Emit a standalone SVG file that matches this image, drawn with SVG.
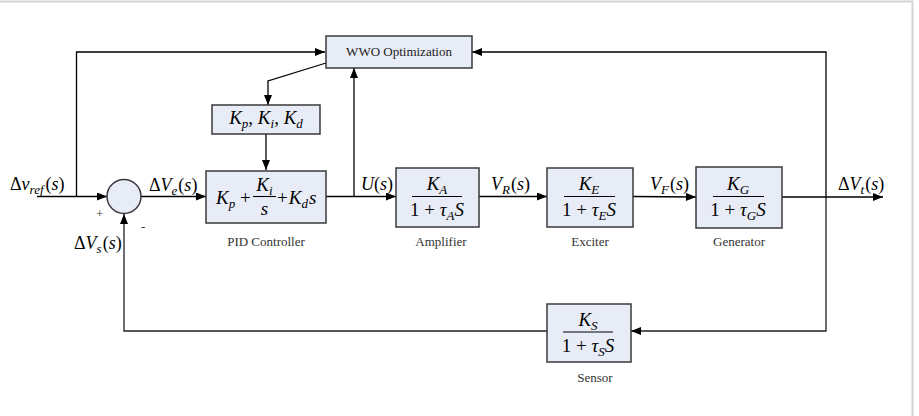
<svg xmlns="http://www.w3.org/2000/svg" width="919" height="416" viewBox="0 0 919 416">
<defs>
<marker id="arr" viewBox="0 0 10 8" refX="10" refY="4" markerWidth="11" markerHeight="8" markerUnits="userSpaceOnUse" orient="auto">
<path d="M0,0 L10,4 L0,8 Z" fill="#000"/>
</marker>
<style>
.box{fill:#e8ecf6;stroke:#3a3a3a;stroke-width:1.5}
.ln{fill:none;stroke:#000;stroke-width:1.3}
.ln2{fill:none;stroke:#222;stroke-width:1.3}
.frac{stroke:#000;stroke-width:1.1}
.m{font-family:"Liberation Serif","Times New Roman",serif;font-size:19px;fill:#000}
.i{font-style:italic}
.sub{font-size:13px;font-style:italic}
.lab{font-family:"Liberation Serif","Times New Roman",serif;font-size:13px;fill:#333}
.sig{font-family:"Liberation Serif","Times New Roman",serif;font-size:18px;fill:#000}
</style>
</defs>
<rect width="919" height="416" fill="#fff"/>
<path d="M0,1.5 H912.5 V416" fill="none" stroke="#d4d4d4" stroke-width="2"/>

<g id="connectors">
<path class="ln" d="M37,196.5 H107" marker-end="url(#arr)"/>
<path class="ln" d="M76.5,196.5 V52 H325" marker-end="url(#arr)"/>
<path class="ln" d="M141,196.5 H206" marker-end="url(#arr)"/>
<path class="ln" d="M326,196.5 H396" marker-end="url(#arr)"/>
<path class="ln" d="M354,196.5 V68" marker-end="url(#arr)"/>
<path class="ln" d="M326,63 L268,81 V105" marker-end="url(#arr)"/>
<path class="ln" d="M266,134 V170" marker-end="url(#arr)"/>
<path class="ln" d="M479,196.5 H547" marker-end="url(#arr)"/>
<path class="ln" d="M633,196.5 L696,197" marker-end="url(#arr)"/>
<path class="ln" d="M782,197 H883" marker-end="url(#arr)"/>
<path class="ln" d="M826,197 V52 H472" marker-end="url(#arr)"/>
<path class="ln2" d="M826,197 V331 H631" marker-end="url(#arr)"/>
<path class="ln2" d="M547,331 H124 V214" marker-end="url(#arr)"/>
</g>

<g id="sum">
<circle cx="124" cy="196.5" r="17" class="box"/>
<text class="lab" x="96" y="218">+</text>
<text class="lab" x="141" y="231">-</text>
</g>

<g id="wwo">
<rect class="box" x="326" y="36" width="146" height="32"/>
<text x="399" y="56" text-anchor="middle" font-family="Liberation Serif,Times New Roman,serif" font-size="13" fill="#222">WWO Optimization</text>
</g>

<g id="gains">
<rect class="box" x="212" y="105" width="108" height="29"/>
<text class="m" x="266" y="124" text-anchor="middle"><tspan class="i">K</tspan><tspan class="sub" dy="4">p</tspan><tspan dy="-4">, </tspan><tspan class="i">K</tspan><tspan class="sub" dy="4">i</tspan><tspan dy="-4">, </tspan><tspan class="i">K</tspan><tspan class="sub" dy="4">d</tspan></text>
</g>

<g id="pid">
<rect class="box" x="206" y="171" width="120" height="52"/>
<text class="m" x="216" y="204"><tspan class="i">K</tspan><tspan class="sub" dy="4">p</tspan><tspan dy="-4"> +</tspan></text>
<text class="m" x="264.5" y="191" text-anchor="middle"><tspan class="i">K</tspan><tspan class="sub" dy="4">i</tspan></text>
<line class="frac" x1="253" y1="196.5" x2="276" y2="196.5"/>
<text class="m i" x="264.5" y="215" text-anchor="middle">s</text>
<text class="m" x="277" y="204">+<tspan class="i" dx="1">K</tspan><tspan class="sub" dy="4">d</tspan><tspan class="i" dy="-4" dx="1">s</tspan></text>
<text class="lab" x="266" y="246" text-anchor="middle">PID Controller</text>
</g>

<g id="amplifier">
<rect class="box" x="396" y="168" width="83" height="59"/>
<text class="m" x="437" y="190" text-anchor="middle"><tspan class="i">K</tspan><tspan class="sub" dy="4">A</tspan></text>
<line class="frac" x1="412" y1="196.5" x2="462" y2="196.5"/>
<text class="m" x="437" y="216" text-anchor="middle">1 + <tspan class="i">τ</tspan><tspan class="sub" dy="4">A</tspan><tspan class="i" dy="-4">S</tspan></text>
<text class="lab" x="441" y="246" text-anchor="middle">Amplifier</text>
</g>

<g id="exciter">
<rect class="box" x="547" y="168" width="86" height="59"/>
<text class="m" x="589" y="190" text-anchor="middle"><tspan class="i">K</tspan><tspan class="sub" dy="4">E</tspan></text>
<line class="frac" x1="564" y1="196.5" x2="615" y2="196.5"/>
<text class="m" x="589" y="216" text-anchor="middle">1 + <tspan class="i">τ</tspan><tspan class="sub" dy="4">E</tspan><tspan class="i" dy="-4">S</tspan></text>
<text class="lab" x="590" y="246" text-anchor="middle">Exciter</text>
</g>

<g id="generator">
<rect class="box" x="696" y="167" width="86" height="61"/>
<text class="m" x="738" y="190" text-anchor="middle"><tspan class="i">K</tspan><tspan class="sub" dy="4">G</tspan></text>
<line class="frac" x1="713" y1="196.5" x2="764" y2="196.5"/>
<text class="m" x="738" y="216" text-anchor="middle">1 + <tspan class="i">τ</tspan><tspan class="sub" dy="4">G</tspan><tspan class="i" dy="-4">S</tspan></text>
<text class="lab" x="739" y="246" text-anchor="middle">Generator</text>
</g>

<g id="sensor">
<rect class="box" x="547" y="304" width="84" height="58"/>
<text class="m" x="588" y="326" text-anchor="middle"><tspan class="i">K</tspan><tspan class="sub" dy="4">S</tspan></text>
<line class="frac" x1="563" y1="332" x2="613" y2="332"/>
<text class="m" x="588" y="352" text-anchor="middle">1 + <tspan class="i">τ</tspan><tspan class="sub" dy="4">S</tspan><tspan class="i" dy="-4">S</tspan></text>
<text class="lab" x="595" y="382" text-anchor="middle">Sensor</text>
</g>

<g id="signals">
<text class="sig" x="10" y="190">Δ<tspan class="i">v</tspan><tspan class="sub" dy="4" font-size="12">ref</tspan><tspan dy="-4" dx="2">(</tspan><tspan class="i">s</tspan>)</text>
<text class="sig" x="149" y="191">Δ<tspan class="i">V</tspan><tspan class="sub" dy="4">e</tspan><tspan dy="-4" dx="1">(</tspan><tspan class="i">s</tspan>)</text>
<text class="sig" x="74" y="249">Δ<tspan class="i">V</tspan><tspan class="sub" dy="4">s</tspan><tspan dy="-4" dx="1">(</tspan><tspan class="i">s</tspan>)</text>
<text class="sig" x="361" y="190"><tspan class="i">U</tspan>(<tspan class="i">s</tspan>)</text>
<text class="sig" x="491" y="190"><tspan class="i">V</tspan><tspan class="sub" dy="4">R</tspan><tspan dy="-4" dx="1">(</tspan><tspan class="i">s</tspan>)</text>
<text class="sig" x="650" y="190"><tspan class="i">V</tspan><tspan class="sub" dy="4">F</tspan><tspan dy="-4" dx="1">(</tspan><tspan class="i">s</tspan>)</text>
<text class="sig" x="838" y="190">Δ<tspan class="i">V</tspan><tspan class="sub" dy="4">t</tspan><tspan dy="-4" dx="1">(</tspan><tspan class="i">s</tspan>)</text>
</g>
</svg>
